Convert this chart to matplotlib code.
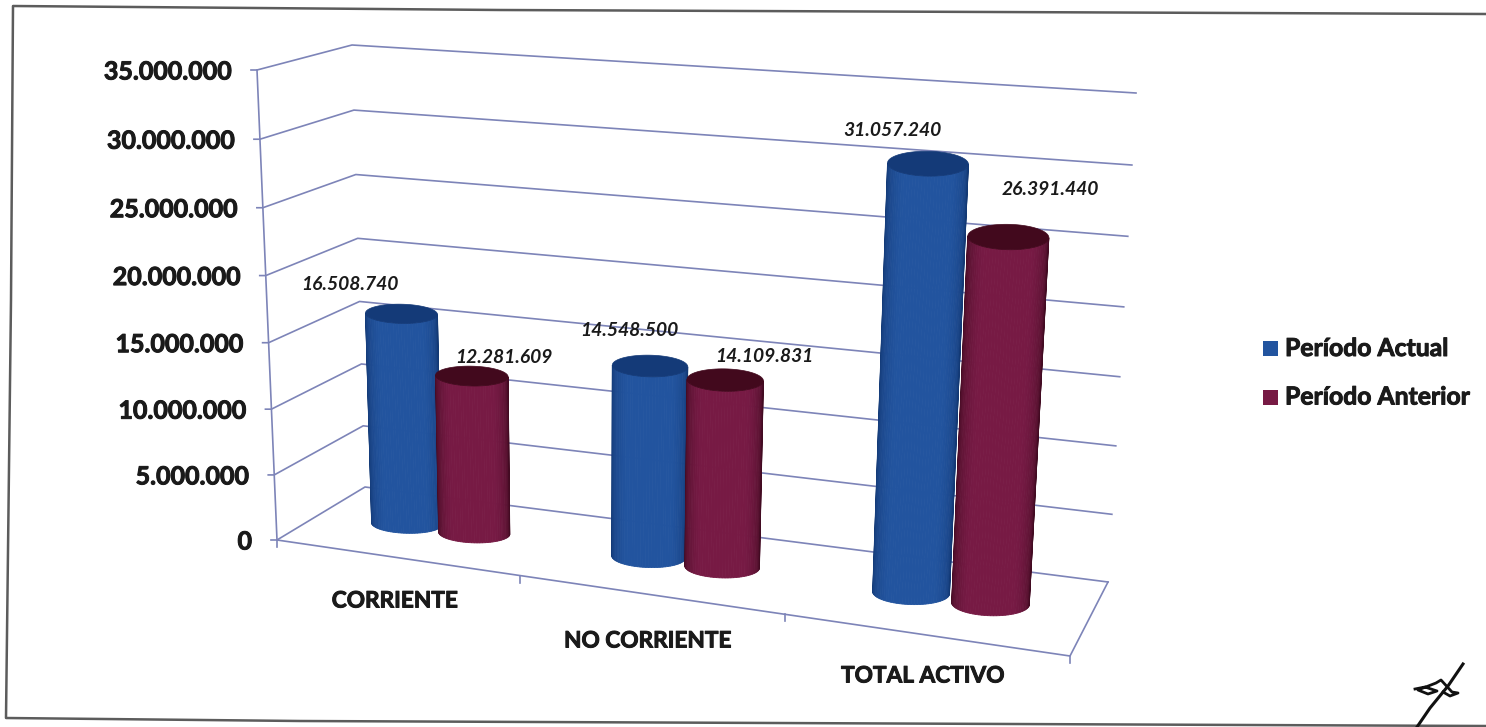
"""Activo corriente / no corriente, cilindros 3D dibujados a mano (proyeccion en pixeles)."""
import numpy as np
import matplotlib
matplotlib.use("Agg")
import matplotlib.pyplot as plt
import matplotlib.patheffects as pe
from matplotlib.patches import Polygon, Rectangle

# ── Data ─────────────────────────────────────────────────────────────────────
categories = ["CORRIENTE", "NO CORRIENTE", "TOTAL ACTIVO"]
periodo_actual = [16508740, 14548500, 31057240]
periodo_anterior = [12281609, 14109831, 26391440]
value_ticks = [0, 5000000, 10000000, 15000000, 20000000, 25000000, 30000000, 35000000]
series_names = ["Período Actual", "Período Anterior"]

# ── Layout constants (pixels of the 1486x727 picture) ────────────────────────
W, H = 1486, 727
V_MAX = 35000000
FLOOR_FL = np.array([277.0, 540.0])
FLOOR_FR = np.array([1070.0, 656.0])
FLOOR_BL = np.array([365.0, 487.0])
FLOOR_BR = np.array([1108.0, 582.0])
LIFT_FL = np.array([-20.0, -470.0])
LIFT_FR = np.array([33.0, -520.0])
LIFT_BL = np.array([-13.0, -442.0])
LIFT_BR = np.array([28.0, -489.0])
BAR_DEPTH = 0.55
BAR_OFFSET = 0.048
BAR_RADIUS = 0.051
BAR_SCALE = 0.988    # bars are a little shorter than the walls say
BAR_DROP = 2.0
GRID = "#7d84b8"
TEXT = "#1a1a1a"
BLUE_MID, BLUE_EDGE, BLUE_TOP = "#22549f", "#123670", "#143a78"
RED_MID, RED_EDGE, RED_TOP = "#771a44", "#3d0a1f", "#42091d"
FONT = "Lato"
HEAVY = [pe.withStroke(linewidth=0.7, foreground=TEXT)]

# label offsets from the top of each bar
OFF_ACTUAL = [(-52, -29.5), (-21, -36), (-36, -33)]
OFF_ANTERIOR = [(32, -19), (39, -24), (42, -48)]


def warp_u(u):
    return u - 0.12 * u * (1 - u)


def warp_v(v):
    t = v / V_MAX
    return t - 0.036 * t * (1 - t)


def project(u, d, v):
    """u along the categories 0-1, d front to back 0-1, v the value."""
    s = warp_u(u)
    base = ((1 - s) * (1 - d) * FLOOR_FL + s * (1 - d) * FLOOR_FR
            + (1 - s) * d * FLOOR_BL + s * d * FLOOR_BR)
    lift = ((1 - s) * (1 - d) * LIFT_FL + s * (1 - d) * LIFT_FR
            + (1 - s) * d * LIFT_BL + s * d * LIFT_BR)
    return base + lift * warp_v(v)


def bar_point(u, v):
    return project(u, BAR_DEPTH, v * BAR_SCALE) + np.array([0.0, BAR_DROP])


def shade(c_mid, c_edge, w):
    a = np.array(matplotlib.colors.to_rgb(c_mid))
    b = np.array(matplotlib.colors.to_rgb(c_edge))
    return a * w + b * (1 - w)


def ellipse_pts(u, v, angles):
    c = bar_point(u, v)
    r = BAR_RADIUS * (1 - 0.1 * u)
    left = bar_point(u - r, v)
    right = bar_point(u + r, v)
    rx = (right[0] - left[0]) / 2
    slope = (right[1] - left[1]) / (right[0] - left[0])
    ry = rx * (0.26 + 0.06 * u)
    return np.column_stack([c[0] + rx * np.cos(angles),
                            c[1] + ry * np.sin(angles) + 0.2 * slope * rx * np.cos(angles)])


def cylinder(ax, u, value, mid, edge, top):
    angles = np.linspace(np.pi, 0, 41)
    low = ellipse_pts(u, 0, angles)
    high = ellipse_pts(u, value, angles)
    for i in range(40):
        a = (angles[i] + angles[i + 1]) / 2
        w = np.clip(1.2 * np.sin(a) ** 0.8, 0, 1)
        col = shade(mid, edge, w)
        quad = [low[i], low[i + 1], high[i + 1], high[i]]
        ax.add_patch(Polygon(quad, closed=True, facecolor=col, edgecolor=col, lw=0.6, zorder=3))
    ring = ellipse_pts(u, value, np.linspace(0, 2 * np.pi, 80))
    ax.add_patch(Polygon(ring, closed=True, facecolor=top, edgecolor=top, lw=0.5, zorder=3))
    return bar_point(u, value)


fmt = lambda v: f"{v:,}".replace(",", ".")

fig = plt.figure(figsize=(W / 100, H / 100), dpi=100)
ax = fig.add_axes([0, 0, 1, 1])
ax.set_xlim(0, W)
ax.set_ylim(H, 0)
ax.axis("off")

# ── Scanned frame ────────────────────────────────────────────────────────────
ax.plot([1486, 500, 13, 11, 6, 300, 1486], [14, 10, 6, 300, 718, 721, 726],
        color="#5c5c5c", lw=1.8)

# ── Walls and floor ──────────────────────────────────────────────────────────
for v in value_ticks:
    front = project(0, 0, v)
    back_l = project(0, 1, v)
    back_r = project(1, 1, v)
    ax.plot([front[0] - 6, front[0], back_l[0], back_r[0]],
            [front[1], front[1], back_l[1], back_r[1]], color=GRID, lw=1.2)
    ax.text(front[0] - 25, front[1] + 2, fmt(v), ha="right", va="center",
            family=FONT, fontweight="bold", fontsize=18, color=TEXT, path_effects=HEAVY)

p0, p1 = project(0, 0, 0), project(0, 0, V_MAX)
ax.plot([p0[0], p1[0]], [p0[1], p1[1]], color=GRID, lw=1.2)

pts = np.array([project(0, 0, 0), project(1, 0, 0), project(1, 1, 0)])
ax.plot(pts[:, 0], pts[:, 1], color=GRID, lw=1.2)
for i in range(len(categories) + 1):
    t = project(i / len(categories), 0, 0)
    ax.plot([t[0], t[0]], [t[1], t[1] + 7], color=GRID, lw=1.2)

# ── Cylinders ────────────────────────────────────────────────────────────────
tops = []
for i in range(len(categories)):
    u = (i + 0.5) / len(categories)
    t1 = cylinder(ax, u - BAR_OFFSET, periodo_actual[i], BLUE_MID, BLUE_EDGE, BLUE_TOP)
    t2 = cylinder(ax, u + BAR_OFFSET, periodo_anterior[i], RED_MID, RED_EDGE, RED_TOP)
    tops.append((t1, t2))

# ── Labels ───────────────────────────────────────────────────────────────────
for i, (t1, t2) in enumerate(tops):
    ax.text(t1[0] + OFF_ACTUAL[i][0], t1[1] + OFF_ACTUAL[i][1], fmt(periodo_actual[i]),
            ha="center", va="center", family=FONT, style="italic", fontweight="bold",
            fontsize=13.9, color=TEXT, zorder=4)
    ax.text(t2[0] + OFF_ANTERIOR[i][0], t2[1] + OFF_ANTERIOR[i][1], fmt(periodo_anterior[i]),
            ha="center", va="center", family=FONT, style="italic", fontweight="bold",
            fontsize=13.9, color=TEXT, zorder=4)

for name, x, y in zip(categories, [395, 648, 923], [601, 641, 676]):
    ax.text(x, y, name, ha="center", va="center", family=FONT, fontweight="bold",
            fontsize=16.3, color=TEXT, path_effects=HEAVY)

# ── Legend ───────────────────────────────────────────────────────────────────
for name, col, y in zip(series_names, [BLUE_MID, RED_MID], [348.5, 397]):
    ax.add_patch(Rectangle((1263, y - 7.5), 15, 15, facecolor=col, edgecolor="none"))
    ax.text(1285, y, name, ha="left", va="center", family=FONT, fontweight="bold",
            fontsize=17.8, color=TEXT, path_effects=HEAVY)

# ── Signature ────────────────────────────────────────────────────────────────
ax.plot([1463, 1448, 1430, 1417], [664, 686, 708, 727], color="#111111", lw=2.2)
ax.plot([1415, 1425, 1437, 1428, 1418, 1436, 1441, 1452, 1458, 1450, 1443],
        [689, 687, 691, 694, 690, 683, 680, 692, 693, 696, 692], color="#111111", lw=2.0)

fig.savefig("out.png", dpi=100, facecolor="white")
